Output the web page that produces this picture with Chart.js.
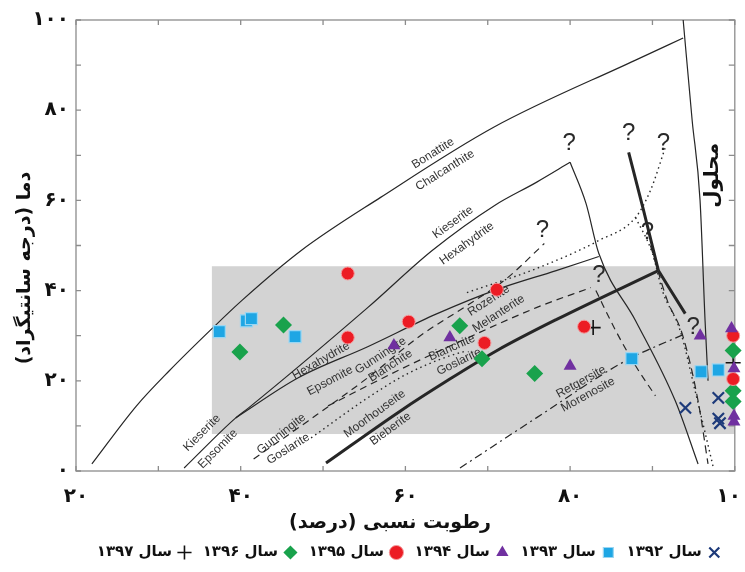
<!DOCTYPE html>
<html><head><meta charset="utf-8">
<script src="https://cdn.jsdelivr.net/npm/chart.js@4.4.1/dist/chart.umd.min.js"></script>
<style>html,body{margin:0;padding:0;background:#fff}#wrap{width:745px;height:572px;position:relative}</style>
</head><body><div id="wrap"><canvas id="c"></canvas></div>
<script>
// ---------- data (relative humidity %, temperature °C) ----------
const seriesNames = ['سال ۱۳۹۲','سال ۱۳۹۳','سال ۱۳۹۴','سال ۱۳۹۵','سال ۱۳۹۶','سال ۱۳۹۷'];
const year1392 = [[94,14],[98,16.2],[98,11.6],[98.2,10.6]];
const year1393 = [[37.4,30.9],[40.7,33.3],[41.3,33.8],[46.6,29.8],[87.5,24.9],[95.9,22],[98,22.4]];
const year1394 = [[58.6,27.8],[65.4,29.6],[80,23.3],[95.8,30],[99.6,31.6],[99.9,22.7],[99.9,12.2],[99.9,10.9]];
const year1395 = [[53,43.8],[53,29.6],[60.4,33.1],[71.1,40.2],[69.6,28.4],[81.7,32],[99.8,30],[99.8,20.4]];
const year1396 = [[39.9,26.4],[45.2,32.4],[66.6,32.2],[69.3,24.9],[75.7,21.6],[99.8,26.7],[99.8,17.8],[99.8,15.4]];
const year1397 = [[82.8,31.8],[99.8,24]];

const shadeX = [36.5, 100];
const shadeY = [8.2, 45.4];

// phase boundary curves
const bonattiteChalcanthite = [[21.93,1.56],[27.35,14.44],[31.33,22.22],[36.51,31.56],[40.12,37.78],[47.35,48.89],[56.99,60.67],[70.72,76.22],[87.95,91.11],[93.73,96]];
const solutionBoundary = [[93.73,100],[94.82,77.78],[95.78,60],[96.39,33.33],[96.75,20]];
const kieseriteLeft = [[33.13,0.67],[39.4,11.78],[40.96,14],[55.42,36.22],[63.25,48.89],[70.84,58.89],[75.9,64],[80,68.44]];
const kieseriteRight = [[80,68.44],[81.93,59.33],[83.49,48.22],[87.95,33.33],[92.77,15.56],[95.54,1.56]];
const hexahydriteEpsomite = [[39.4,11.78],[46.99,20.67],[55.42,27.56],[63.86,34.89],[71.08,40.22],[78.31,44.44],[83.49,47.56]];
const moorhouseiteBieberite = [[50.36,1.78],[59.4,13.33],[65.06,20],[71.08,26.67],[78.31,33.56],[90.72,44.44]];
const thickUpper = [[87.11,70.67],[88.92,57.78],[90.72,44.44]];
const thickLower = [[90.72,44.44],[93.98,34.89]];
const gunningiteDashed = [[41.57,2.67],[48.19,11.11],[55.42,20.67],[61.81,30],[67.47,36.67],[72.29,42.67],[76.87,50.44]];
const bianchiteDashed = [[50.6,14.44],[59.04,22.22],[66.27,28.44],[75.9,36.22],[82.53,40.67]];
const goslariteDotted = [[48.55,7.33],[55.42,16.22],[60.24,21.56],[65.06,25.33],[67.47,26.67]];
const rozeniteDotted = [[67.47,39.56],[75.9,44.89],[83.49,51.11],[87.95,56.22],[89.76,62.22],[91.57,71.78]];
const dottedDown = [[87.95,56.22],[90,48.22],[91.2,40],[93.37,31.11],[95.18,17.78],[97.35,1.11]];
const dashedMid = [[83.13,40],[85.54,31.11],[87.95,23.33],[90.36,16.67]];
const dashedRight = [[89.76,50],[91.81,37.78],[93.61,30.44],[95.54,15.56],[96.75,1.56]];
const retgersiteMorenosite = [[66.63,0.67],[75.9,11.78],[86.75,24.44],[93.98,30.44]];

// text annotations: [text, x, y, angle]
const mineralLabels = [
 ['Bonattite',63.37,70.44,-32],['Chalcanthite',64.82,66.67,-32],
 ['Kieserite',65.78,55.11,-36],['Hexahydrite',67.47,50.44,-36],
 ['Kieserite',35.3,8.44,-45],['Epsomite',37.23,4.89,-45],
 ['Hexahydrite',49.76,24.44,-30],['Epsomite',50.84,20,-28],
 ['Gunningite',44.94,8.22,-38],['Goslarite',45.78,4.89,-32],
 ['Gunningite',56.99,25.56,-33],['Bianchite',58.19,23.33,-33],
 ['Rozenite',70.12,37.78,-33],['Melanterite',71.33,34.89,-33],
 ['Bianchite',65.66,27.33,-24],['Goslarite',66.51,24.22,-26],
 ['Moorhouseite',56.27,12.67,-36],['Bieberite',58.19,9.33,-36],
 ['Retgersite',81.33,19.78,-29],['Morenosite',82.17,16.89,-29]
];
const questionMarks = [[79.88,72.67],[87.11,74.89],[91.33,72.67],[76.63,53.33],[89.4,52.89],[83.49,43.33],[94.94,31.78]];
const solutionLabel = ['محلول',97.35,65.56];
const xTitle = 'رطوبت نسبی (درصد)';
const yTitle = 'دما (درجه سانتیگراد)';

// ---------- helpers ----------
const fa = n => String(n).replace(/\d/g, d => '۰۱۲۳۴۵۶۷۸۹'[d]);
const pts = a => a.map(p => ({x:p[0], y:p[1]}));
const PF = 'DejaVu Sans';

function pointSet(label, data, style, radius, bg, border, bw) {
  return {type:'scatter', label: label + '\u00A0', data:pts(data), pointStyle:style, pointRadius:radius, pointHoverRadius:radius,
    backgroundColor:bg, borderColor:border, borderWidth:bw, order:0, clip:false};
}
function curve(data, width, dash) {
  return {type:'line', data:pts(data), borderColor:'#262626', borderWidth:width, borderDash:dash||[],
    pointRadius:0, fill:false, tension:0.35, cubicInterpolationMode:'monotone', order:1, label:'', clip:false};
}

const datasets = [
  pointSet(seriesNames[0], year1392, 'crossRot', 8, '#1d3a7a', '#1d3a7a', 2.2),
  pointSet(seriesNames[1], year1393, 'rect', 8.5, '#1ea6e4', '#9bd6f2', 1.2),
  pointSet(seriesNames[2], year1394, 'triangle', 7.5, '#7030a0', '#7030a0', 0),
  pointSet(seriesNames[3], year1395, 'circle', 6.5, '#ec1c24', '#f59a9c', 1),
  pointSet(seriesNames[4], year1396, 'rectRot', 8.5, '#19a24c', '#19a24c', 0),
  pointSet(seriesNames[5], year1397, 'cross', 7.5, '#111', '#111', 1.6),
  curve(bonattiteChalcanthite, 1.2),
  curve(solutionBoundary, 1.2),
  curve(kieseriteLeft, 1.2),
  curve(kieseriteRight, 1.2),
  curve(hexahydriteEpsomite, 1.2),
  curve(moorhouseiteBieberite, 3),
  curve(thickUpper, 3),
  curve(thickLower, 3),
  curve(gunningiteDashed, 1.2, [7,5]),
  curve(bianchiteDashed, 1.2, [7,5]),
  curve(goslariteDotted, 1.4, [1.5,3.5]),
  curve(rozeniteDotted, 1.4, [1.5,3.5]),
  curve(dottedDown, 1.4, [1.5,3.5]),
  curve(dashedMid, 1.2, [7,5]),
  curve(dashedRight, 1.2, [8,5]),
  curve(retgersiteMorenosite, 1.2, [8,4,2,4])
];

const overlay = {
  id:'overlay',
  beforeDatasetsDraw(chart){
    const {ctx, chartArea:a, scales:{x,y}} = chart;
    ctx.save();
    const x0=x.getPixelForValue(shadeX[0]), x1=x.getPixelForValue(shadeX[1]);
    const y0=y.getPixelForValue(shadeY[1]), y1=y.getPixelForValue(shadeY[0]);
    ctx.fillStyle='#d3d3d3';
    ctx.fillRect(x0,y0,x1-x0,y1-y0);
    ctx.strokeStyle='#8c8c8c'; ctx.lineWidth=1.3;
    ctx.strokeRect(a.left,a.top,a.right-a.left,a.bottom-a.top);
    ctx.beginPath();
    x.ticks.forEach(t=>{const p=x.getPixelForValue(t.value); ctx.moveTo(p,a.bottom); ctx.lineTo(p,a.bottom-5); ctx.moveTo(p,a.top); ctx.lineTo(p,a.top+5);});
    y.ticks.forEach(t=>{const p=y.getPixelForValue(t.value); ctx.moveTo(a.left,p); ctx.lineTo(a.left+5,p); ctx.moveTo(a.right,p); ctx.lineTo(a.right-6,p);});
    ctx.stroke();
    ctx.fillStyle='#333'; ctx.font='12px "Liberation Sans", Arial, sans-serif';
    ctx.textAlign='center'; ctx.textBaseline='middle';
    mineralLabels.forEach(([t,vx,vy,ang])=>{
      ctx.save(); ctx.translate(x.getPixelForValue(vx), y.getPixelForValue(vy)); ctx.rotate(ang*Math.PI/180);
      ctx.fillText(t,0,0); ctx.restore();
    });
    ctx.font='24px "Liberation Sans", Arial, sans-serif'; ctx.fillStyle='#2a2a2a';
    questionMarks.forEach(([vx,vy])=>ctx.fillText('?', x.getPixelForValue(vx), y.getPixelForValue(vy)));
    ctx.restore();
  },
  afterDraw(chart){
    const {ctx, chartArea:a, scales:{x,y}} = chart;
    ctx.save();
    ctx.direction='rtl'; ctx.textAlign='center'; ctx.textBaseline='middle'; ctx.fillStyle='#111';
    ctx.font='bold 20px "'+PF+'"';
    ctx.save(); ctx.translate(x.getPixelForValue(solutionLabel[1]), y.getPixelForValue(solutionLabel[2])); ctx.rotate(-Math.PI/2);
    ctx.fillText(solutionLabel[0],0,0); ctx.restore();
    ctx.font='bold 19px "'+PF+'"';
    ctx.fillText(xTitle, a.left+314, a.bottom+52);
    ctx.save(); ctx.translate(25, a.top+248); ctx.rotate(-Math.PI/2); ctx.fillText(yTitle,0,0); ctx.restore();
    ctx.restore();
  }
};

function noPad(s){ s.paddingLeft=0; s.paddingRight=0; s.paddingTop=0; s.paddingBottom=0; }

new Chart(document.getElementById('c'), {
  type:'scatter',
  data:{datasets},
  plugins:[overlay],
  options:{
    responsive:true, maintainAspectRatio:false, animation:false, devicePixelRatio:1,
    layout:{padding:{top:20,right:5,left:0,bottom:2}},
    plugins:{
      tooltip:{enabled:false},
      legend:{position:'bottom', fullSize:false, rtl:true, textDirection:'rtl',
        labels:{usePointStyle:true, boxWidth:10, boxHeight:10, padding:8, color:'#111',
          font:{family:PF, size:15, weight:'bold'},
          filter:item=>item.datasetIndex<6}}
    },
    scales:{
      x:{type:'linear', min:20, max:100,
        ticks:{stepSize:10, autoSkip:false, maxRotation:0, padding:14, color:'#111',
          font:{family:PF, size:20, weight:'bold'}, callback:v=> v%20===0 ? fa(v) : ''},
        grid:{display:false, drawTicks:false}, border:{display:false},
        afterFit:s=>{s.height=66; noPad(s);}},
      y:{type:'linear', min:0, max:100,
        ticks:{stepSize:10, autoSkip:false, padding:7, color:'#111',
          font:{family:PF, size:20, weight:'bold'}, callback:v=> v%20===0 ? fa(v) : ''},
        grid:{display:false, drawTicks:false}, border:{display:false},
        afterFit:s=>{s.width=76; noPad(s);}}
    }
  }
});
</script>
</body></html>
